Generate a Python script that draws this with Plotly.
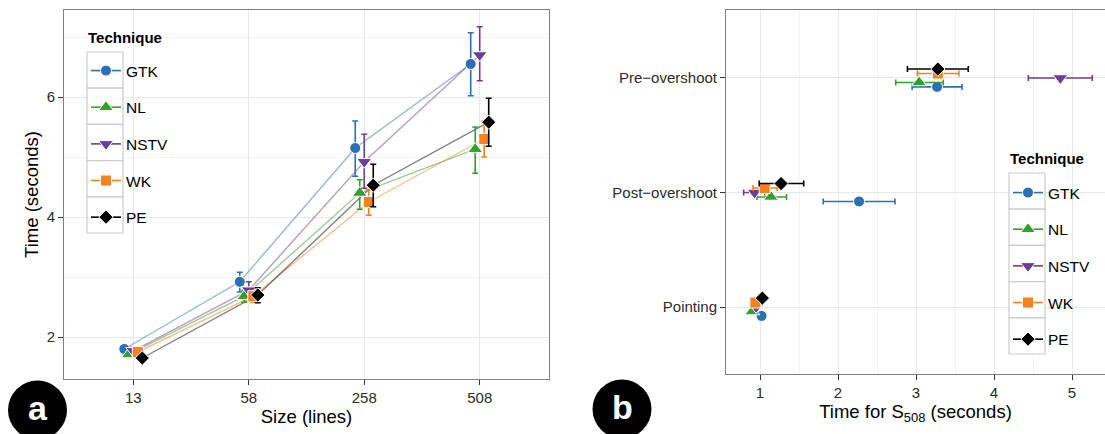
import plotly.graph_objects as go

W, H = 1105, 434

# ---------------- data ----------------
techniques = ["GTK", "NL", "NSTV", "WK", "PE"]
colors = ["#2c6fb5", "#33a02c", "#6a3d9a", "#f8801e", "#000000"]
line_colors = ["rgba(44,111,181,0.5)", "rgba(51,160,44,0.5)", "rgba(106,61,154,0.5)",
               "rgba(248,128,30,0.5)", "rgba(0,0,0,0.5)"]
symbols = ["circle", "triangle-up", "triangle-down", "square", "diamond"]
marker_sizes = [11, 13, 13, 11, 11]

# panel a: time vs size
sizes = ["13", "58", "258", "508"]
a_mean = {
    "GTK":  [1.80, 2.92, 5.15, 6.55],
    "NL":   [1.71, 2.68, 4.40, 5.13],
    "NSTV": [1.77, 2.78, 4.92, 6.70],
    "WK":   [1.75, 2.68, 4.25, 5.30],
    "PE":   [1.65, 2.70, 4.53, 5.58],
}
a_low = {
    "GTK":  [1.74, 2.75, 4.68, 6.02],
    "NL":   [1.66, 2.58, 4.13, 4.73],
    "NSTV": [1.72, 2.68, 4.48, 6.27],
    "WK":   [1.70, 2.58, 4.03, 5.00],
    "PE":   [1.60, 2.57, 4.17, 5.18],
}
a_high = {
    "GTK":  [1.86, 3.08, 5.60, 7.07],
    "NL":   [1.76, 2.78, 4.62, 5.50],
    "NSTV": [1.83, 2.92, 5.38, 7.17],
    "WK":   [1.80, 2.77, 4.45, 5.60],
    "PE":   [1.70, 2.82, 4.88, 5.98],
}

# panel b: time for S508 per phase
phases = ["Pointing", "Post\u2212overshoot", "Pre\u2212overshoot"]
b_mean = {
    "GTK":  [1.02, 2.27, 3.27],
    "NL":   [0.90, 1.14, 3.04],
    "NSTV": [0.95, 0.93, 4.85],
    "WK":   [0.94, 1.06, 3.28],
    "PE":   [1.03, 1.27, 3.28],
}
b_low = {
    "GTK":  [1.00, 1.81, 2.95],
    "NL":   [0.88, 0.96, 2.74],
    "NSTV": [0.93, 0.79, 4.44],
    "WK":   [0.92, 0.91, 3.02],
    "PE":   [1.01, 0.99, 2.89],
}
b_high = {
    "GTK":  [1.04, 2.73, 3.59],
    "NL":   [0.92, 1.34, 3.35],
    "NSTV": [0.97, 1.06, 5.26],
    "WK":   [0.96, 1.22, 3.55],
    "PE":   [1.05, 1.56, 3.67],
}

dodge_step = 0.039
FONT = "Liberation Sans, Arial, sans-serif"


def px(x):
    return x / W


def py(y):
    return 1 - y / H


fig = go.Figure()

for i, t in enumerate(techniques):
    off = (i - 2) * dodge_step
    xs = [k + off for k in range(len(sizes))]
    fig.add_trace(go.Scatter(
        x=xs, y=a_mean[t], mode="lines", line=dict(color=line_colors[i], width=1.4),
        showlegend=False, hoverinfo="skip", xaxis="x", yaxis="y"))
for i, t in enumerate(techniques):
    off = (i - 2) * dodge_step
    xs = [k + off for k in range(len(sizes))]
    m = a_mean[t]
    fig.add_trace(go.Scatter(
        x=xs, y=m, mode="markers", name=t, showlegend=False,
        marker=dict(symbol=symbols[i], color=colors[i], size=marker_sizes[i],
                    line=dict(color="white", width=1)),
        error_y=dict(type="data", symmetric=False,
                     array=[h - v for h, v in zip(a_high[t], m)],
                     arrayminus=[v - l for l, v in zip(a_low[t], m)],
                     color=colors[i], thickness=1.6, width=3),
        xaxis="x", yaxis="y"))
    fig.add_trace(go.Scatter(
        x=[None], y=[None], mode="lines+markers", name=t, legend="legend",
        legendgroup="a" + t,
        line=dict(color=colors[i], width=1.6),
        marker=dict(symbol=symbols[i], color=colors[i], size=marker_sizes[i],
                    line=dict(color="white", width=1)),
        xaxis="x", yaxis="y"))

for i, t in enumerate(techniques):
    off = (i - 2) * dodge_step
    ys = [k + off for k in range(len(phases))]
    m = b_mean[t]
    fig.add_trace(go.Scatter(
        x=m, y=ys, mode="markers", name=t, showlegend=False,
        marker=dict(symbol=symbols[i], color=colors[i], size=marker_sizes[i],
                    line=dict(color="white", width=1)),
        error_x=dict(type="data", symmetric=False,
                     array=[h - v for h, v in zip(b_high[t], m)],
                     arrayminus=[v - l for l, v in zip(b_low[t], m)],
                     color=colors[i], thickness=1.6, width=3),
        xaxis="x2", yaxis="y2"))
    fig.add_trace(go.Scatter(
        x=[None], y=[None], mode="lines+markers", name=t, legend="legend2",
        legendgroup="b" + t,
        line=dict(color=colors[i], width=1.6),
        marker=dict(symbol=symbols[i], color=colors[i], size=marker_sizes[i],
                    line=dict(color="white", width=1)),
        xaxis="x2", yaxis="y2"))

axis_common = dict(
    showline=True, linecolor="#7f7f7f", linewidth=1,
    ticks="outside", ticklen=5, tickwidth=1, tickcolor="#333333",
    tickfont=dict(family=FONT, size=15, color="#2b2b2b"),
    gridcolor="#e8e8e8", gridwidth=1, zeroline=False, automargin=False,
    title_font=dict(family=FONT, size=18.5, color="#000000"),
)

KEY = 36.2
shapes = []
for k in range(5):
    shapes.append(dict(type="rect", xref="paper", yref="paper", layer="above",
                       x0=px(87), x1=px(123), y0=py(52 + KEY * (k + 1)), y1=py(52 + KEY * k),
                       line=dict(color="#cccccc", width=1.2), fillcolor="white"))
    shapes.append(dict(type="rect", xref="paper", yref="paper", layer="above",
                       x0=px(1009), x1=px(1045), y0=py(173 + KEY * (k + 1)), y1=py(173 + KEY * k),
                       line=dict(color="#cccccc", width=1.2), fillcolor="white"))
for cx, cy in [(37.5, 410), (622, 409)]:
    r = 29.5
    shapes.append(dict(type="circle", xref="paper", yref="paper", layer="above",
                       x0=px(cx - r), x1=px(cx + r), y0=py(cy + r), y1=py(cy - r),
                       line=dict(color="black", width=0), fillcolor="black"))

annotations = [
    dict(text="<b>a</b>", x=px(37.5), y=py(408), xref="paper", yref="paper",
         showarrow=False, font=dict(family=FONT, size=34, color="white"),
         xanchor="center", yanchor="middle"),
    dict(text="<b>b</b>", x=px(622), y=py(407), xref="paper", yref="paper",
         showarrow=False, font=dict(family=FONT, size=34, color="white"),
         xanchor="center", yanchor="middle"),
    dict(text="<b>Technique</b>", x=px(86), y=py(37), xref="paper", yref="paper",
         showarrow=False, font=dict(family=FONT, size=15, color="#000000"),
         xanchor="left", yanchor="middle"),
    dict(text="<b>Technique</b>", x=px(1008), y=py(158), xref="paper", yref="paper",
         showarrow=False, font=dict(family=FONT, size=15, color="#000000"),
         xanchor="left", yanchor="middle"),
]

legend_common = dict(
    bgcolor="rgba(0,0,0,0)", borderwidth=0,
    font=dict(family=FONT, size=15.5, color="#000000"),
    tracegroupgap=13.5, itemwidth=30, xanchor="left", yanchor="top",
    traceorder="grouped", itemclick=False, itemdoubleclick=False,
)

fig.update_layout(
    width=W, height=H, autosize=False,
    margin=dict(l=0, r=0, t=0, b=0),
    paper_bgcolor="white", plot_bgcolor="white",
    font=dict(family=FONT),
    showlegend=True,
    xaxis=dict(axis_common, domain=[px(64), px(549)], range=[-0.6, 3.6],
               tickvals=list(range(len(sizes))), ticktext=sizes, mirror=True,
               title=dict(text="Size (lines)", standoff=0)),
    yaxis=dict(axis_common, domain=[py(379), py(10)], range=[1.3, 7.45],
               tickvals=[2, 4, 6], mirror=True,
               minor=dict(dtick=1, tick0=0, showgrid=True, gridcolor="#f3f3f3", ticklen=0),
               title=dict(text="Time (seconds)", standoff=3)),
    xaxis2=dict(axis_common, domain=[px(726), 1.0], range=[0.564, 5.423],
                tickvals=[1, 2, 3, 4, 5], mirror=True, anchor="y2",
                minor=dict(dtick=0.5, tick0=0, showgrid=True, gridcolor="#f3f3f3", ticklen=0),
                title=dict(text="Time for S<sub>508</sub> (seconds)", standoff=0)),
    yaxis2=dict(axis_common, domain=[py(374), py(9.5)], range=[-0.585, 2.598],
                tickvals=list(range(len(phases))), ticktext=phases, anchor="x2"),
    legend=dict(legend_common, x=px(86), y=py(54)),
    legend2=dict(legend_common, x=px(1008), y=py(176)),
    shapes=shapes,
    annotations=annotations,
)

fig.write_html("out.html", config={"displayModeBar": False},
               post_script="document.body.style.margin='0px';document.body.style.overflow='hidden';")
